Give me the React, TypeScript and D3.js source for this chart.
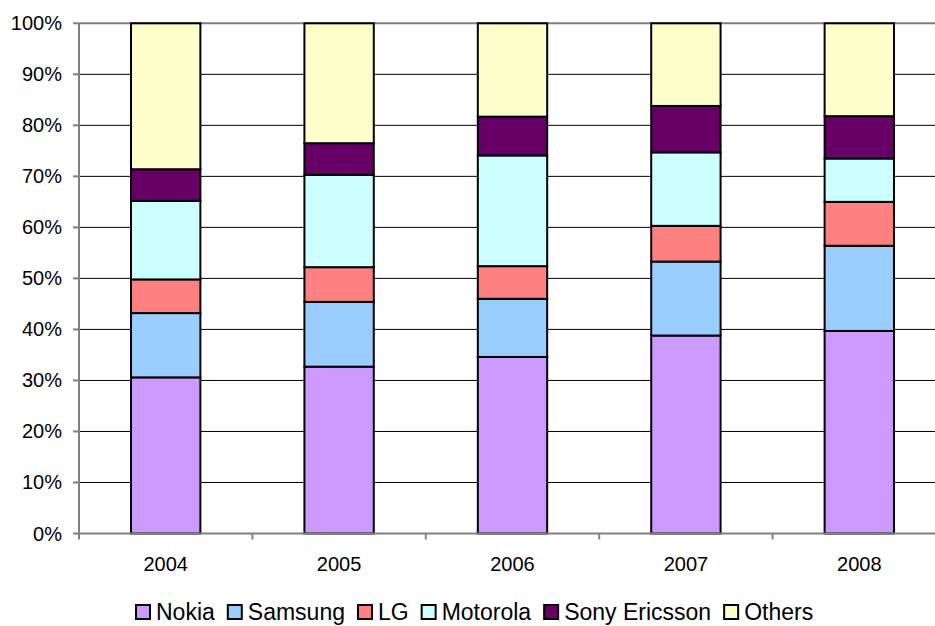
import React from 'react';
import * as d3 from 'd3';

// market share by vendor, percent of units
const years = ['2004', '2005', '2006', '2007', '2008'];
const vendors = ['Nokia', 'Samsung', 'LG', 'Motorola', 'Sony Ericsson', 'Others'];
const nokia = [30.6, 32.7, 34.6, 38.8, 39.7];
const samsung = [12.6, 12.7, 11.4, 14.5, 16.7];
const lg = [6.6, 6.8, 6.4, 7.0, 8.6];
const motorola = [15.4, 18.1, 21.7, 14.4, 8.5];
const sonyEricsson = [6.2, 6.2, 7.6, 9.1, 8.3];
const others = [28.6, 23.5, 18.3, 16.2, 18.2];
const colors = ['#CC99FF', '#99CCFF', '#FF8080', '#CCFFFF', '#660066', '#FFFFCC'];
const yTicks = [0, 10, 20, 30, 40, 50, 60, 70, 80, 90, 100];

const W = 935;
const H = 626;
const FONT = '"Liberation Sans", Arial, sans-serif';

export default function App() {
  const series = [nokia, samsung, lg, motorola, sonyEricsson, others];
  const rows = years.map((y, i) => {
    const r: any = { year: y };
    vendors.forEach((v, k) => (r[v] = series[k][i]));
    return r;
  });
  const stacked = d3.stack().keys(vendors).offset(d3.stackOffsetExpand)(rows);

  const left = 79;
  const right = 946;
  const top = 23.3;
  const bottom = 533.5;

  const x = d3.scaleBand().domain(years).range([left, right]).paddingInner(0.6).paddingOuter(0.3);
  const y = d3.scaleLinear().domain([0, 1]).range([bottom, top]);
  const step = x.step();

  // legend layout
  const legendFont = 23;
  const measure = (s: string) => {
    const c = document.createElement('canvas').getContext('2d');
    if (!c) return s.length * legendFont * 0.56;
    c.font = `${legendFont}px "Liberation Sans", Arial`;
    return c.measureText(s).width;
  };
  let lx = 136;
  const legendItems = vendors.map((v, i) => {
    const item = { v, x: lx, c: colors[i] };
    lx += 14 + 6 + measure(v) + 13;
    return item;
  });

  return (
    <svg width={W} height={H} style={{ position: 'absolute', left: 0, top: 0, background: '#fff' }}>
      {/* gridlines */}
      {yTicks.slice(1, -1).map((t) => (
        <line key={t} x1={left} x2={right} y1={y(t / 100)} y2={y(t / 100)} stroke="#000" strokeWidth={1} />
      ))}
      <line x1={left} x2={right} y1={y(1)} y2={y(1)} stroke="#808080" strokeWidth={2} />

      {/* bars */}
      {stacked.map((s, k) => (
        <g key={s.key}>
          {s.map((d, i) => (
            <rect
              key={i}
              x={x(years[i])}
              y={y(d[1])}
              width={x.bandwidth()}
              height={y(d[0]) - y(d[1])}
              fill={colors[k]}
              stroke="#000"
              strokeWidth={2}
            />
          ))}
        </g>
      ))}

      {/* axes */}
      <line x1={left} x2={left} y1={top} y2={bottom + 1} stroke="#808080" strokeWidth={2} />
      <line x1={left} x2={right} y1={bottom} y2={bottom} stroke="#808080" strokeWidth={2} />
      {yTicks.map((t) => (
        <g key={t}>
          <line x1={left - 6} x2={left} y1={y(t / 100)} y2={y(t / 100)} stroke="#808080" strokeWidth={2} />
          <text x={62} y={y(t / 100) + 7} textAnchor="end" fontFamily={FONT} fontSize={20} fill="#000">
            {t}%
          </text>
        </g>
      ))}
      {d3.range(years.length + 1).map((i) => (
        <line key={i} x1={left + i * step} x2={left + i * step} y1={bottom} y2={bottom + 6} stroke="#808080" strokeWidth={2} />
      ))}
      {years.map((yr) => (
        <text key={yr} x={(x(yr) as number) + x.bandwidth() / 2} y={571} textAnchor="middle" fontFamily={FONT} fontSize={20} fill="#000">
          {yr}
        </text>
      ))}

      {/* legend */}
      {legendItems.map((it) => (
        <g key={it.v}>
          <rect x={it.x} y={605} width={14} height={14} fill={it.c} stroke="#000" strokeWidth={2} />
          <text x={it.x + 20} y={620} fontFamily={FONT} fontSize={legendFont} fill="#000">
            {it.v}
          </text>
        </g>
      ))}
    </svg>
  );
}
